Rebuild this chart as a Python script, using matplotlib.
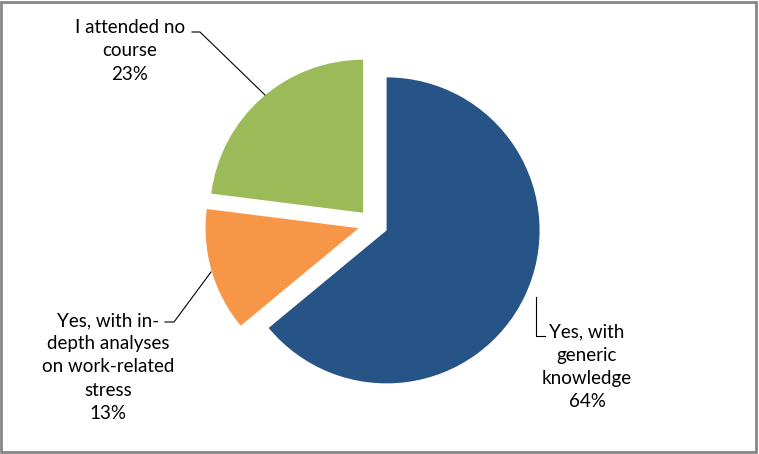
import matplotlib
matplotlib.use("Agg")
import matplotlib.pyplot as plt
from matplotlib.patches import Rectangle

labels = ["Yes, with\ngeneric\nknowledge", "Yes, with in-\ndepth analyses\non work-related\nstress", "I attended no\ncourse"]
shares = [64, 13, 23]
colors = ["#275487", "#F79646", "#9BBB59"]

W, H = 759, 454
fig = plt.figure(figsize=(W / 100, H / 100), dpi=100)
ax = fig.add_axes([0, 0, 1, 1])

# pie centre / radius in pixel units (y flipped)
cx, cy, r = 373, H - 224, 153
ax.pie(shares, colors=colors, startangle=90, counterclock=False,
       explode=[15, 15, 15], radius=r, center=(cx, cy), frame=True,
       wedgeprops=dict(linewidth=0))

ax.set_xlim(0, W)
ax.set_ylim(0, H)
ax.set_aspect("auto")
ax.axis("off")

font = dict(family=["Lato", "DejaVu Sans"], fontsize=13.5, color="black",
            ha="center", va="center", linespacing=1.45)

# label positions (pixels)
lab_pos = [(587, 367), (108, 367), (130, 51)]
for txt, pct, (x, y) in zip(labels, shares, lab_pos):
    ax.text(x, H - y, f"{txt}\n{pct}%", **font)

# leader lines
leaders = [
    [(536, 297), (536, 336), (545, 336)],
    [(211, 272), (174, 322), (165, 322)],
    [(265, 95), (200, 32), (192, 32)],
]
for pts in leaders:
    xs = [p[0] for p in pts]
    ys = [H - p[1] for p in pts]
    ax.plot(xs, ys, color="black", lw=0.8)

fig.patches.append(Rectangle((1 / W, 2 / H), (W - 4) / W, (H - 4) / H,
                             transform=fig.transFigure, fill=False,
                             edgecolor="#868686", lw=2))

fig.savefig("out.png", dpi=100)
